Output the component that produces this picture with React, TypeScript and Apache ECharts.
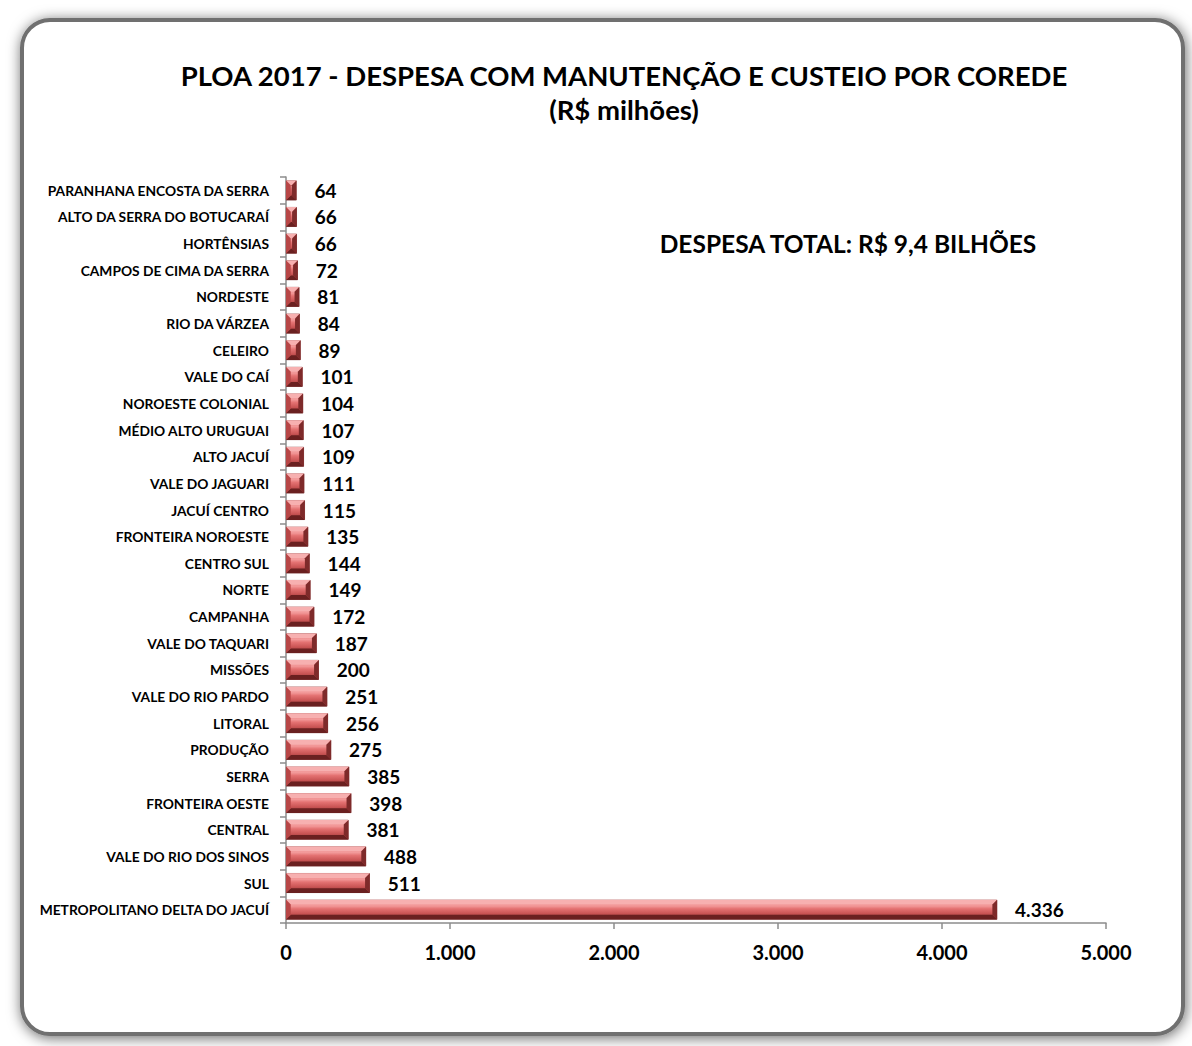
import React, { useEffect, useRef } from "react";
import * as echarts from "echarts";

const categories = [
  "PARANHANA ENCOSTA DA SERRA",
  "ALTO DA SERRA DO BOTUCARAÍ",
  "HORTÊNSIAS",
  "CAMPOS DE CIMA DA SERRA",
  "NORDESTE",
  "RIO DA VÁRZEA",
  "CELEIRO",
  "VALE DO CAÍ",
  "NOROESTE COLONIAL",
  "MÉDIO ALTO URUGUAI",
  "ALTO JACUÍ",
  "VALE DO JAGUARI",
  "JACUÍ CENTRO",
  "FRONTEIRA NOROESTE",
  "CENTRO SUL",
  "NORTE",
  "CAMPANHA",
  "VALE DO TAQUARI",
  "MISSÕES",
  "VALE DO RIO PARDO",
  "LITORAL",
  "PRODUÇÃO",
  "SERRA",
  "FRONTEIRA OESTE",
  "CENTRAL",
  "VALE DO RIO DOS SINOS",
  "SUL",
  "METROPOLITANO DELTA DO JACUÍ",
];

const values = [
  64, 66, 66, 72, 81, 84, 89, 101, 104, 107, 109, 111, 115, 135, 144, 149,
  172, 187, 200, 251, 256, 275, 385, 398, 381, 488, 511, 4336,
];

const xTicks = { min: 0, max: 5000, interval: 1000 };

const titleLines = [
  "PLOA 2017 - DESPESA COM MANUTENÇÃO E CUSTEIO POR COREDE",
  "(R$ milhões)",
];
const annotation = "DESPESA TOTAL: R$ 9,4 BILHÕES";

const fmt = (v: number) =>
  String(Math.round(v)).replace(/\B(?=(\d{3})+(?!\d))/g, ".");

const FONT = "Lato, 'Open Sans', sans-serif";
const GAP = 0.26;

export default function App() {
  const ref = useRef<HTMLDivElement>(null);
  useEffect(() => {
    document.body.style.margin = "0";
    const chart = echarts.init(ref.current!, undefined, { renderer: "svg" });
    chart.setOption({
      animation: false,
      backgroundColor: "#ffffff",
      textStyle: { fontFamily: FONT },
      graphic: [
        {
          type: "rect",
          z: -10,
          shape: { x: 22, y: 20, width: 1161, height: 1014, r: 28 },
          style: {
            fill: "#ffffff",
            stroke: "#6f6f6f",
            lineWidth: 4,
            shadowBlur: 14,
            shadowColor: "rgba(0,0,0,0.6)",
            shadowOffsetX: 1,
            shadowOffsetY: 2,
          },
        },
        {
          type: "text",
          z: 10,
          style: {
            x: 624,
            y: 75,
            text: titleLines[0],
            textAlign: "center",
            textVerticalAlign: "middle",
            fontFamily: FONT,
            fontWeight: "bold",
            fontSize: 27.5,
            fill: "#000",
          },
        },
        {
          type: "text",
          z: 10,
          style: {
            x: 624,
            y: 109,
            text: titleLines[1],
            textAlign: "center",
            textVerticalAlign: "middle",
            fontFamily: FONT,
            fontWeight: "bold",
            fontSize: 27.5,
            fill: "#000",
          },
        },
        {
          type: "text",
          z: 10,
          style: {
            x: 848,
            y: 243,
            text: annotation,
            textAlign: "center",
            textVerticalAlign: "middle",
            fontFamily: FONT,
            fontWeight: "bold",
            fontSize: 24.5,
            fill: "#000",
          },
        },
      ],
      grid: { left: 286, right: 86, top: 177, bottom: 123, containLabel: false },
      xAxis: {
        type: "value",
        min: xTicks.min,
        max: xTicks.max,
        interval: xTicks.interval,
        splitLine: { show: false },
        axisLine: { show: true, lineStyle: { color: "#8c8c8c", width: 1.5 } },
        axisTick: { show: true, length: 6, lineStyle: { color: "#8c8c8c", width: 1.5 } },
        axisLabel: {
          margin: 19,
          fontFamily: FONT,
          fontWeight: "bold",
          fontSize: 20,
          color: "#000",
          formatter: (v: number) => fmt(v),
        },
      },
      yAxis: {
        type: "category",
        inverse: true,
        data: categories,
        axisLine: { show: true, lineStyle: { color: "#8c8c8c", width: 1.5 } },
        axisTick: { show: true, length: 6, lineStyle: { color: "#8c8c8c", width: 1.5 } },
        axisLabel: {
          margin: 17,
          fontFamily: FONT,
          fontWeight: "bold",
          fontSize: 13.8,
          color: "#000",
        },
      },
      series: [
        {
          type: "bar",
          data: values,
          barCategoryGap: GAP * 100 + "%",
          z: 2,
          itemStyle: {
            color: new echarts.graphic.LinearGradient(0, 0, 0, 1, [
              { offset: 0, color: "#e57878" },
              { offset: 0.3, color: "#f39a9a" },
              { offset: 0.45, color: "#e47272" },
              { offset: 0.7, color: "#c95454" },
              { offset: 1, color: "#8e3232" },
            ]),
            borderColor: "#7a2a2a",
            borderWidth: 0.6,
          },
          label: {
            show: true,
            position: "right",
            distance: 18,
            fontFamily: FONT,
            fontWeight: "bold",
            fontSize: 19,
            color: "#000",
            formatter: (p: any) => fmt(p.value),
          },
        },
        {
          type: "custom",
          z: 3,
          silent: true,
          data: values.map((v, i) => [v, i]),
          encode: { x: 0, y: 1 },
          renderItem: (params: any, api: any) => {
            const v = api.value(0);
            const idx = api.value(1);
            const start = api.coord([0, idx]);
            const end = api.coord([v, idx]);
            const band = api.size([0, 1])[1];
            const h = band * (1 - GAP);
            const x0 = start[0];
            const x1 = end[0];
            const y0 = start[1] - h / 2;
            const y1 = start[1] + h / 2;
            const b = Math.min(h * 0.24, (x1 - x0) / 2);
            return {
              type: "group",
              children: [
                {
                  type: "polygon",
                  shape: { points: [[x0, y0], [x1, y0], [x1 - b, y0 + b], [x0 + b, y0 + b]] },
                  style: { fill: "#f7b0b0" },
                },
                {
                  type: "polygon",
                  shape: { points: [[x0, y1], [x1, y1], [x1 - b, y1 - b], [x0 + b, y1 - b]] },
                  style: { fill: "#6a2020" },
                },
                {
                  type: "polygon",
                  shape: { points: [[x0, y0], [x0 + b, y0 + b], [x0 + b, y1 - b], [x0, y1]] },
                  style: { fill: "#b84646" },
                },
                {
                  type: "polygon",
                  shape: { points: [[x1, y0], [x1 - b, y0 + b], [x1 - b, y1 - b], [x1, y1]] },
                  style: { fill: "#7e2a2a" },
                },
              ],
            };
          },
        },
      ],
    });
    return () => chart.dispose();
  }, []);
  return <div ref={ref} style={{ width: 1192, height: 1046 }} />;
}
